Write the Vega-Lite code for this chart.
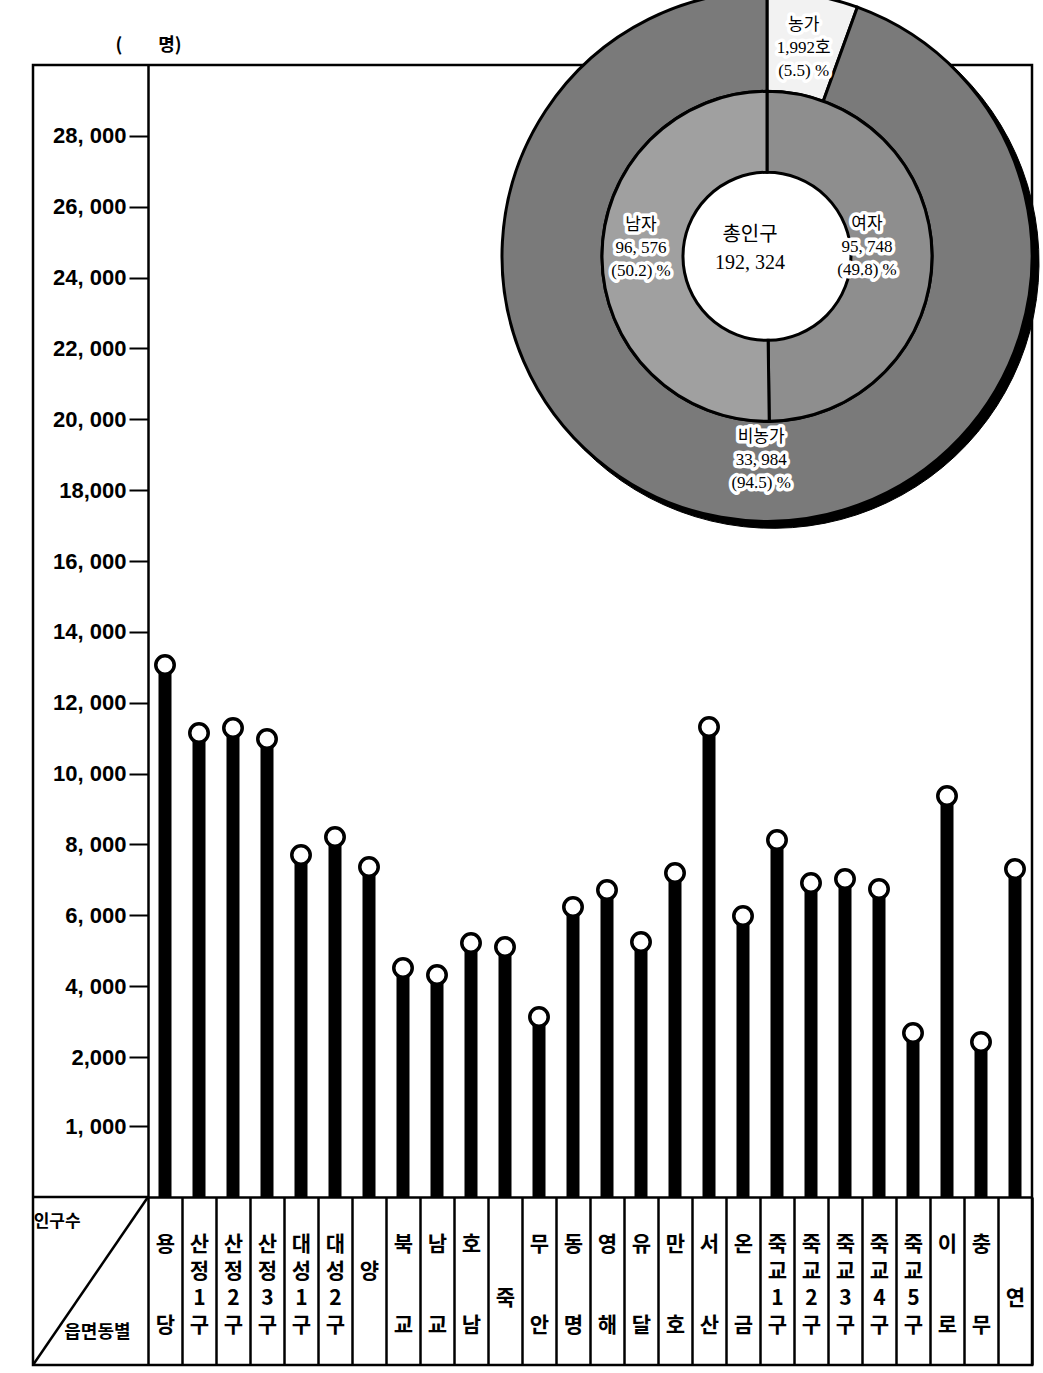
{
  "$schema": "https://vega.github.io/schema/vega-lite/v6.json",
  "width": 999,
  "height": 1300,
  "autosize": {"type": "none"},
  "padding": {"left": 33, "top": 65, "right": 11, "bottom": 8},
  "background": "white",
  "config": {"view": {"stroke": "black", "strokeWidth": 2.5}},
  "datasets": {
    "dong": [
      {"동": "용당", "인구": 13065},
      {"동": "산정1구", "인구": 11145},
      {"동": "산정2구", "인구": 11286},
      {"동": "산정3구", "인구": 10976},
      {"동": "대성1구", "인구": 7702},
      {"동": "대성2구", "인구": 8210},
      {"동": "양", "인구": 7363},
      {"동": "북교", "인구": 4512},
      {"동": "남교", "인구": 4314},
      {"동": "호남", "인구": 5218},
      {"동": "죽", "인구": 5105},
      {"동": "무안", "인구": 3129},
      {"동": "동명", "인구": 6234},
      {"동": "영해", "인구": 6714},
      {"동": "유달", "인구": 5246},
      {"동": "만호", "인구": 7193},
      {"동": "서산", "인구": 11314},
      {"동": "온금", "인구": 5980},
      {"동": "죽교1구", "인구": 8125},
      {"동": "죽교2구", "인구": 6911},
      {"동": "죽교3구", "인구": 7024},
      {"동": "죽교4구", "인구": 6742},
      {"동": "죽교5구", "인구": 2677},
      {"동": "이로", "인구": 9367},
      {"동": "충무", "인구": 2423},
      {"동": "연", "인구": 7306}
    ],
    "farm": [
      {"구분": "농가", "값": 1992, "라벨": "농가\n1,992호\n(5.5) %"},
      {"구분": "비농가", "값": 33984, "라벨": "비농가\n33, 984\n(94.5) %"}
    ],
    "sex": [
      {"구분": "여자", "값": 95748, "라벨": "여자\n95, 748\n(49.8) %"},
      {"구분": "남자", "값": 96576, "라벨": "남자\n96, 576\n(50.2) %"}
    ],
    "total": [
      {"구분": "총인구", "값": 192324, "라벨": "총인구\n192, 324"}
    ]
  },
  "layer": [
    {
      "data": {"name": "dong"},
      "layer": [
        {
          "mark": {"type": "rule", "strokeWidth": 13, "color": "black"},
          "encoding": {
            "x": {
              "field": "동", "type": "nominal",
              "scale": {"type": "band", "domain": ["용당", "산정1구", "산정2구", "산정3구", "대성1구", "대성2구", "양", "북교", "남교", "호남", "죽", "무안", "동명", "영해", "유달", "만호", "서산", "온금", "죽교1구", "죽교2구", "죽교3구", "죽교4구", "죽교5구", "이로", "충무", "연"], "range": [115, 999], "paddingInner": 0, "paddingOuter": 0},
              "axis": {
                "orient": "bottom", "offset": -168, "tickBand": "extent", "tickSize": 168, "tickWidth": 2.5, "tickColor": "black",
                "domain": true, "domainColor": "black", "domainWidth": 2.5,
                "labelAngle": 0, "labelPadding": -132, "labelFont": "Noto Sans CJK KR", "labelFontWeight": "bold", "labelFontSize": 21,
                "labelColor": "black", "labelLineHeight": 27, "labelBaseline": "top", "labelAlign": "center",
                "labelOverlap": false, "labelBound": false, "labelFlush": false, "title": null, "grid": false,
                "labelExpr": "length(datum.label) == 4 ? [substring(datum.label,0,1), substring(datum.label,1,2), substring(datum.label,2,3), substring(datum.label,3,4)] : length(datum.label) == 2 ? [substring(datum.label,0,1), '\u2800', '\u2800', substring(datum.label,1,2)] : datum.label == '양' ? ['\u2800', datum.label] : ['\u2800', '\u2800', datum.label]"
              }
            },
            "y": {
              "field": "인구", "type": "quantitative",
              "scale": {"domain": [0, 1000, 2000, 30000], "range": [1132, 1061, 992, 0], "nice": false, "zero": false},
              "axis": {
                "orient": "left", "offset": -115,
                "values": [1000, 2000, 4000, 6000, 8000, 10000, 12000, 14000, 16000, 18000, 20000, 22000, 24000, 26000, 28000],
                "labelExpr": "(datum.value == 18000 || datum.value == 2000) ? format(datum.value, ',') : replace(format(datum.value, ','), ',', ', ')",
                "tickSize": 19, "tickWidth": 2, "tickColor": "black",
                "domain": true, "domainColor": "black", "domainWidth": 2.5,
                "labelFont": "Liberation Sans", "labelFontWeight": "bold", "labelFontSize": 22, "labelColor": "black",
                "labelPadding": 3, "grid": false, "labelOverlap": false, "labelBound": false, "labelFlush": false,
                "title": "(　　명)", "titleAngle": 0, "titleAlign": "left", "titleBaseline": "middle", "titleX": -33, "titleY": -20,
                "titleFont": "Noto Sans CJK KR", "titleFontSize": 18, "titleFontWeight": "bold", "titleColor": "black"
              }
            },
            "y2": {"datum": 0}
          }
        },
        {
          "mark": {"type": "point", "shape": "circle", "size": 340, "filled": false, "fill": "white", "stroke": "black", "strokeWidth": 3.5, "opacity": 1},
          "encoding": {
            "x": {"field": "동", "type": "nominal"},
            "y": {"field": "인구", "type": "quantitative"}
          }
        },
        {
          "data": {"name": "farm"},
          "mark": {"type": "arc", "outerRadius": 266, "innerRadius": 200, "fill": "black", "stroke": "black", "xOffset": -4, "yOffset": 6},
          "encoding": {
            "theta": {"field": "값", "type": "quantitative", "stack": "normalize"},
            "order": {"field": "구분", "sort": "ascending"},
            "x": {"datum": "죽교1구"},
            "y": {"datum": 24600}
          }
        },
        {
          "data": {"name": "farm"},
          "mark": {"type": "arc", "outerRadius": 265, "innerRadius": 165, "stroke": "black", "strokeWidth": 3, "xOffset": -10},
          "encoding": {
            "theta": {"field": "값", "type": "quantitative", "stack": "normalize"},
            "order": {"field": "구분", "sort": "ascending"},
            "color": {"field": "구분", "type": "nominal", "scale": {"domain": ["농가", "비농가", "여자", "남자"], "range": ["#f2f2f2", "#7a7a7a", "#8e8e8e", "#a0a0a0"]}, "legend": null},
            "x": {"datum": "죽교1구"},
            "y": {"datum": 24600}
          }
        },
        {
          "data": {"name": "sex"},
          "mark": {"type": "arc", "outerRadius": 165, "innerRadius": 84, "stroke": "black", "strokeWidth": 3, "xOffset": -10},
          "encoding": {
            "theta": {"field": "값", "type": "quantitative", "stack": "normalize"},
            "order": {"field": "구분", "sort": "descending"},
            "color": {"field": "구분", "type": "nominal", "legend": null},
            "x": {"datum": "죽교1구"},
            "y": {"datum": 24600}
          }
        },
        {
          "data": {"name": "farm"},
          "mark": {"type": "text", "radius": 212, "xOffset": -10, "dy": -23, "lineBreak": "\n", "lineHeight": 23, "font": "Liberation Serif, Noto Sans CJK KR", "fontSize": 17, "align": "center", "baseline": "middle", "fill": "white", "stroke": "white", "strokeWidth": 7, "strokeJoin": "round"},
          "encoding": {
            "theta": {"field": "값", "type": "quantitative", "stack": "normalize"},
            "order": {"field": "구분", "sort": "ascending"},
            "x": {"datum": "죽교1구"},
            "y": {"datum": 24600},
            "text": {"field": "라벨"},
            "opacity": {"condition": {"test": "datum['구분'] == '농가'", "value": 1}, "value": 0}
          }
        },
        {
          "data": {"name": "farm"},
          "mark": {"type": "text", "radius": 212, "xOffset": -10, "dy": -23, "lineBreak": "\n", "lineHeight": 23, "font": "Liberation Serif, Noto Sans CJK KR", "fontSize": 17, "align": "center", "baseline": "middle", "fill": "black"},
          "encoding": {
            "theta": {"field": "값", "type": "quantitative", "stack": "normalize"},
            "order": {"field": "구분", "sort": "ascending"},
            "x": {"datum": "죽교1구"},
            "y": {"datum": 24600},
            "text": {"field": "라벨"},
            "opacity": {"condition": {"test": "datum['구분'] == '농가'", "value": 1}, "value": 0}
          }
        },
        {
          "data": {"name": "farm"},
          "mark": {"type": "text", "radius": 207, "xOffset": -10, "dx": 30, "dy": -23, "lineBreak": "\n", "lineHeight": 23, "font": "Liberation Serif, Noto Sans CJK KR", "fontSize": 17, "align": "center", "baseline": "middle", "fill": "white", "stroke": "white", "strokeWidth": 7, "strokeJoin": "round"},
          "encoding": {
            "theta": {"field": "값", "type": "quantitative", "stack": "normalize"},
            "order": {"field": "구분", "sort": "ascending"},
            "x": {"datum": "죽교1구"},
            "y": {"datum": 24600},
            "text": {"field": "라벨"},
            "opacity": {"condition": {"test": "datum['구분'] == '비농가'", "value": 1}, "value": 0}
          }
        },
        {
          "data": {"name": "farm"},
          "mark": {"type": "text", "radius": 207, "xOffset": -10, "dx": 30, "dy": -23, "lineBreak": "\n", "lineHeight": 23, "font": "Liberation Serif, Noto Sans CJK KR", "fontSize": 17, "align": "center", "baseline": "middle", "fill": "black"},
          "encoding": {
            "theta": {"field": "값", "type": "quantitative", "stack": "normalize"},
            "order": {"field": "구분", "sort": "ascending"},
            "x": {"datum": "죽교1구"},
            "y": {"datum": 24600},
            "text": {"field": "라벨"},
            "opacity": {"condition": {"test": "datum['구분'] == '비농가'", "value": 1}, "value": 0}
          }
        },
        {
          "data": {"name": "sex"},
          "mark": {"type": "text", "radius": 113, "xOffset": -10, "dx": -13, "dy": -32, "lineBreak": "\n", "lineHeight": 23, "font": "Liberation Serif, Noto Sans CJK KR", "fontSize": 17, "align": "center", "baseline": "middle", "fill": "white", "stroke": "white", "strokeWidth": 7, "strokeJoin": "round"},
          "encoding": {
            "theta": {"field": "값", "type": "quantitative", "stack": "normalize"},
            "order": {"field": "구분", "sort": "descending"},
            "x": {"datum": "죽교1구"},
            "y": {"datum": 24600},
            "text": {"field": "라벨"}
          }
        },
        {
          "data": {"name": "sex"},
          "mark": {"type": "text", "radius": 113, "xOffset": -10, "dx": -13, "dy": -32, "lineBreak": "\n", "lineHeight": 23, "font": "Liberation Serif, Noto Sans CJK KR", "fontSize": 17, "align": "center", "baseline": "middle", "fill": "black"},
          "encoding": {
            "theta": {"field": "값", "type": "quantitative", "stack": "normalize"},
            "order": {"field": "구분", "sort": "descending"},
            "x": {"datum": "죽교1구"},
            "y": {"datum": 24600},
            "text": {"field": "라벨"}
          }
        },
        {
          "data": {"name": "total"},
          "mark": {"type": "text", "xOffset": -27, "dy": -21, "lineBreak": "\n", "lineHeight": 28, "font": "Liberation Serif, Noto Sans CJK KR", "fontSize": 20, "align": "center", "baseline": "middle", "fill": "black"},
          "encoding": {
            "x": {"datum": "죽교1구"},
            "y": {"datum": 24600},
            "text": {"field": "라벨"}
          }
        }
      ]
    },
    {
      "data": {"values": [{"항목": "인구수/읍면동별"}]},
      "layer": [
        {
          "mark": {"type": "rule", "strokeWidth": 2.5, "color": "black"},
          "encoding": {
            "x": {"datum": 0, "type": "quantitative", "scale": {"domain": [0, 1], "range": [0, 115], "nice": false, "zero": false}, "axis": null},
            "x2": {"datum": 1},
            "y": {"datum": 0, "type": "quantitative", "scale": {"domain": [0, 1], "range": [1300, 1132], "nice": false, "zero": false}, "axis": null},
            "y2": {"datum": 1}
          }
        },
        {
          "mark": {"type": "rule", "strokeWidth": 2.5, "color": "black"},
          "encoding": {
            "x": {"datum": 0, "type": "quantitative"},
            "x2": {"datum": 1},
            "y": {"datum": 1, "type": "quantitative"}
          }
        },
        {
          "data": {"values": [{"항목": "인구수"}]},
          "mark": {"type": "text", "font": "Noto Sans CJK KR", "fontWeight": "bold", "fontSize": 17, "align": "center", "baseline": "middle", "fill": "black"},
          "encoding": {
            "x": {"datum": 0.21, "type": "quantitative"},
            "y": {"datum": 0.85, "type": "quantitative"},
            "text": {"field": "항목"}
          }
        },
        {
          "data": {"values": [{"항목": "읍면동별"}]},
          "mark": {"type": "text", "font": "Noto Sans CJK KR", "fontWeight": "bold", "fontSize": 18, "align": "center", "baseline": "middle", "fill": "black"},
          "encoding": {
            "x": {"datum": 0.56, "type": "quantitative"},
            "y": {"datum": 0.19, "type": "quantitative"},
            "text": {"field": "항목"}
          }
        }
      ]
    }
  ],
  "resolve": {"scale": {"x": "independent", "y": "independent"}}
}
